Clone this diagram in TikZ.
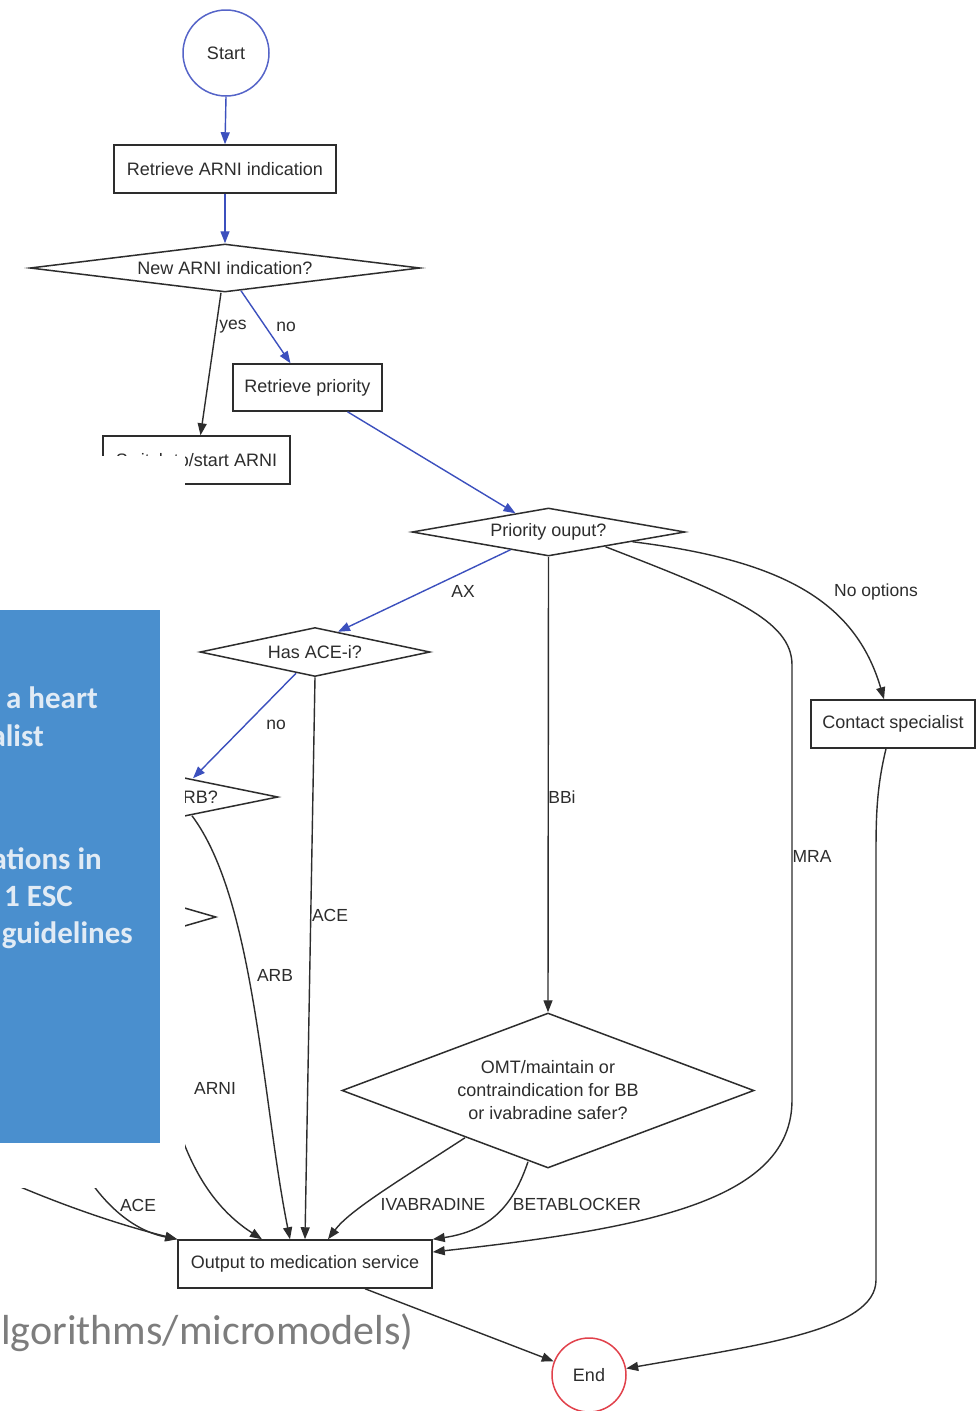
\documentclass[tikz,border=0pt]{standalone}
\usepackage{fontspec}
\setmainfont{Liberation Sans}
\newfontfamily\slidefont{Carlito}
\usetikzlibrary{shapes.geometric,arrows.meta,calc}
\definecolor{ink}{RGB}{45,45,45}
\definecolor{flowblue}{RGB}{60,80,190}
\definecolor{startblue}{RGB}{85,100,200}
\definecolor{endred}{RGB}{225,65,75}
\definecolor{slideblue}{RGB}{74,143,206}
\definecolor{slidetext}{RGB}{225,235,245}
\definecolor{captiongray}{RGB}{125,125,125}
\tikzset{
  box/.style={draw=ink, line width=1.5pt, rectangle, inner sep=0pt, text=ink, font=\fontsize{18}{21}\selectfont},
  decision/.style={draw=ink, line width=1.5pt, diamond, inner sep=0pt, text=ink, align=center, font=\fontsize{18}{23}\selectfont},
  term/.style={circle, line width=1.5pt, inner sep=0pt, text=ink, font=\fontsize{18}{21}\selectfont},
  flow/.style={draw=ink, line width=1.4pt, -{Triangle[length=12pt,width=9pt]}},
  blueflow/.style={flow, draw=flowblue},
  lbl/.style={text=ink, inner sep=0pt, font=\fontsize{17.5}{20}\selectfont},
  slidetxt/.style={text=slidetext, inner sep=0pt, anchor=base east, font=\slidefont\bfseries\fontsize{31}{36}\selectfont},
}
\begin{document}
\begin{tikzpicture}[x=1pt,y=-1pt]
\useasboundingbox (0,0) rectangle (976,1411);
\fill[white] (0,0) rectangle (976,1411);

% nodes
\node[term, draw=startblue, minimum size=86pt] (start) at (226,53) {Start};
\node[box, minimum width=222pt, minimum height=48pt] (retr) at (225,169) {Retrieve ARNI indication};
\node[decision, minimum width=390pt, minimum height=48pt, aspect=8] (newarni) at (225,268) {New ARNI indication?};
\node[box, minimum width=149pt, minimum height=47pt] (retrprio) at (307.5,387.5) {Retrieve priority};
\node[box, minimum width=187pt, minimum height=48pt] (switch) at (196.5,460) {Switch to/start ARNI};
\node[decision, minimum width=273pt, minimum height=48pt, aspect=5.7] (prio) at (548.5,532) {Priority ouput?};
\node[decision, minimum width=230pt, minimum height=49pt, aspect=4.7] (hasace) at (315,652) {Has ACE-i?};
\node[decision, minimum width=204pt, minimum height=42pt, aspect=4.8] (hasarb) at (176,797) {Has ARB?};
\node[decision, minimum width=144pt, minimum height=42pt] (hid) at (144,917) {};
\node[decision, minimum width=412pt, minimum height=155pt, aspect=2.66] (omt) at (548,1090.5) {OMT/maintain or\\contraindication for BB\\or ivabradine safer?};
\node[box, minimum width=164pt, minimum height=48pt] (contact) at (893,724) {Contact specialist};
\node[box, minimum width=254pt, minimum height=48pt] (output) at (305,1264) {Output to medication service};
\node[term, draw=endred, minimum size=74pt] (end) at (589,1375) {End};

\coordinate (srcA) at (-5,1176);
\coordinate (srcB) at (80,1165);

% connectors
\draw[blueflow] (start.south) -- (retr.north);
\draw[blueflow] (retr.south) -- (newarni.north);
\draw[flow] ($(newarni.south)+(-4,0)$) -- ($(switch.north)+(4,0)$);
\draw[blueflow] ($(newarni.south)+(16,-2)$) -- ($(retrprio.north)+(-17,0)$);
\draw[blueflow] ($(retrprio.south)+(40,0)$) -- ($(prio.north)+(-33,6)$);
\draw[blueflow] ($(prio.south)+(-38,-7)$) -- ($(hasace.north)+(23,5)$);
\draw[flow] (prio.south) -- (omt.north);
\draw[flow] ($(prio.south)+(57,-10)$) .. controls (730,595) and (792,620) .. (792,665) -- (792,1100) .. controls (792,1200) and (650,1228) .. ($(output.east)+(0,-12)$);
\draw[flow] ($(prio.south)+(84,-15)$) .. controls (780,560) and (855,600) .. ($(contact.north)+(-9,0)$);
\draw[blueflow] ($(hasace.south)+(-19,-4)$) -- ($(hasarb.north)+(17,3)$);
\draw[flow] (hasace.south) -- (output.north);
\draw[flow] ($(hasarb.south)+(16,-3)$) .. controls (255,900) and (262,1100) .. ($(output.north)+(-15,0)$);
\draw[flow] (hid.south) .. controls (160,1060) and (170,1180) .. ($(output.north)+(-43,0)$);
\draw[flow] (srcA) .. controls (60,1205) and (120,1225) .. (output.north west);
\draw[flow] (srcB) .. controls (100,1200) and (130,1230) .. (output.north west);
\draw[flow] ($(omt.south)+(-83,-31)$) .. controls (400,1180) and (350,1210) .. ($(output.north)+(23,0)$);
\draw[flow] ($(omt.south)+(-20,-7)$) .. controls (515,1200) and (495,1230) .. (output.north east);
\draw[flow] ($(output.south)+(60,0)$) -- (end);
\draw[flow] ($(contact.south)+(-7,0)$) .. controls (876,790) and (876,820) .. (876,860) -- (876,1280) .. controls (876,1330) and (760,1345) .. (end);

% edge labels
\node[lbl] (lyes) at (233,327) {yes};
\node[lbl] (lno1) at (286,327) {no};
\node[lbl] (lax) at (463,591) {AX};
\node[lbl] (lnoopt) at (876,592) {No options};
\node[lbl] (lno2) at (276,725) {no};
\node[lbl] (lbbi) at (562,797) {BBi};
\node[lbl] (lmra) at (812,856) {MRA};
\node[lbl] (lace1) at (330,915) {ACE};
\node[lbl] (larb) at (275,975) {ARB};
\node[lbl] (larni) at (215,1088) {ARNI};
\node[lbl] (lace2) at (138,1205) {ACE};
\node[lbl] (livab) at (433,1204) {IVABRADINE};
\node[lbl] (lbeta) at (577,1204) {BETABLOCKER};

% overlays of the slide
\fill[white] (0,456) rectangle (185,1188);
\fill[slideblue] (0,610) rectangle (160,1143);
\node[slidetxt] (s1) at (98,708) {a heart};
\node[slidetxt] (s2) at (44,746) {alist};
\node[slidetxt] (s3) at (102,869) {ations in};
\node[slidetxt] (s4) at (73,906) {1 ESC};
\node[slidetxt] (s5) at (133,943) {guidelines};
\node[text=captiongray, inner sep=0pt, anchor=base west, font=\slidefont\fontsize{42}{48}\selectfont] (cap) at (1,1344) {lgorithms/micromodels)};
\end{tikzpicture}
\end{document}
